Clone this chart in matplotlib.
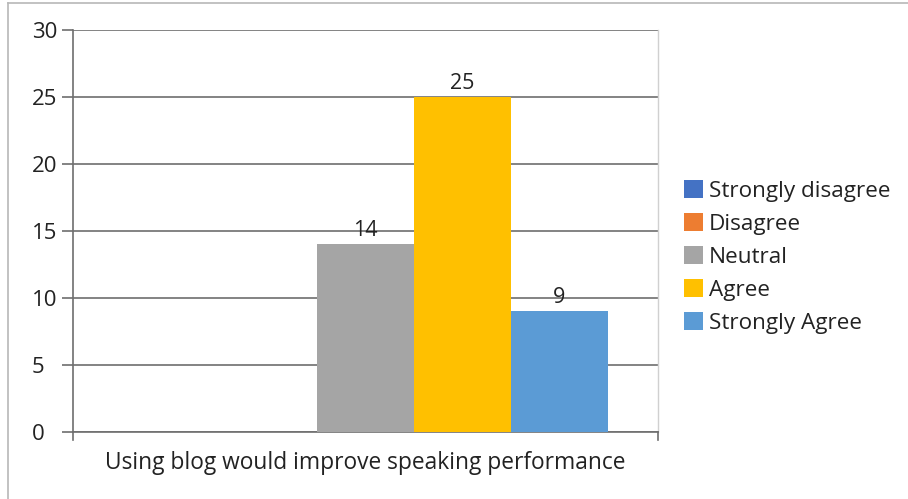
import matplotlib
matplotlib.use("Agg")
import matplotlib.pyplot as plt
from matplotlib.lines import Line2D
import numpy as np

plt.rcParams['font.family'] = ['Open Sans', 'DejaVu Sans']

category = ["Using blog would improve speaking performance"]
series = ["Strongly disagree", "Disagree", "Neutral", "Agree", "Strongly Agree"]
values = [0, 0, 14, 25, 9]
colors = ["#4472C4", "#ED7D31", "#A5A5A5", "#FFC000", "#5B9BD5"]

fig = plt.figure(figsize=(9.08, 4.99), dpi=100)
ax = fig.add_axes([73/908, 67/499, 585/908, 402/499])

width = 97/585
offsets = (np.arange(len(series)) - 2) * width
for off, v, c, s in zip(offsets, values, colors, series):
    ax.bar(off, v, width=width, color=c, label=s, zorder=3)
    if v > 0:
        ax.text(off, v + 0.25, str(v), ha='center', va='bottom', fontsize=15.5, color='#222222')

ax.set_xlim(-0.5, 0.5)
ax.set_ylim(0, 30)
ax.set_yticks(range(0, 31, 5))
ax.yaxis.grid(True, color='#6e6e6e', linewidth=1.2, zorder=0)
ax.set_xticks([0])
ax.set_xticklabels(category, fontsize=16.4, color='#222222')
ax.tick_params(axis='x', length=0, pad=14)
ax.tick_params(axis='y', length=8, color='#6e6e6e', width=1.2, labelsize=16, labelcolor='#222222', pad=21.5)
for lbl in ax.get_yticklabels():
    lbl.set_horizontalalignment('left')
ax.spines['left'].set_color('#6e6e6e')
ax.spines['left'].set_linewidth(1.2)
ax.spines['bottom'].set_color('#6e6e6e')
ax.spines['bottom'].set_linewidth(1.2)
ax.spines['top'].set_visible(False)
ax.spines['right'].set_color('#d0d0d0')
ax.spines['right'].set_linewidth(1)
# x end tick marks
for xv in (-0.5, 0.5):
    ax.plot([xv, xv], [0, -0.6], color='#6e6e6e', lw=1.2, clip_on=False, zorder=4)

leg = fig.legend(*ax.get_legend_handles_labels(), loc='upper left',
                 bbox_to_anchor=(684/908, 1 - 180/499), frameon=False,
                 fontsize=16.2, handlelength=0.85, handleheight=0.85,
                 handletextpad=0.25, labelspacing=0.5, borderpad=0, borderaxespad=0)
for t in leg.get_texts():
    t.set_color('#222222')

# outer frame (partially visible)
fig.add_artist(Line2D([8/908, 8/908], [0, 1 - 3/499], color='#b8b8b8', lw=1.2, transform=fig.transFigure))
fig.add_artist(Line2D([8/908, 1], [1 - 3/499, 1 - 3/499], color='#b8b8b8', lw=1.2, transform=fig.transFigure))

fig.savefig("out.png", dpi=100)
